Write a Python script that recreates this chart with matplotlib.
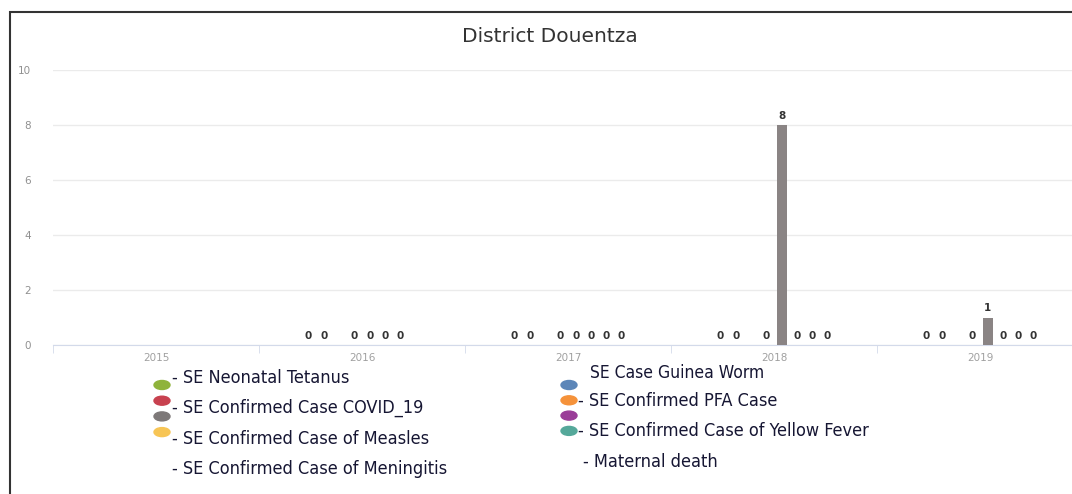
import numpy as np
from matplotlib import pyplot as plt
from matplotlib.patches import Ellipse, Rectangle

nan = np.nan

years = ['2015', '2016', '2017', '2018', '2019']

# one list per series, nan where the chart shows no bar and no label
neonatal_tetanus = [nan, 0, 0, 0, 0]
covid_19 = [nan, 0, 0, 0, 0]
guinea_worm = [nan, nan, nan, nan, nan]
measles = [nan, 0, 0, 0, 0]
meningitis = [nan, 0, 0, 8, 1]
pfa = [nan, 0, 0, 0, 0]
yellow_fever = [nan, 0, 0, 0, 0]
maternal_death = [nan, nan, 0, 0, 0]

series = [neonatal_tetanus, covid_19, guinea_worm, measles,
          meningitis, pfa, yellow_fever, maternal_death]
colors = ['#8fb33b', '#c8414f', '#5c86b8', '#f7c555',
          '#8a8484', '#f5923a', '#9a3d98', '#55a89a']

legend_col1 = ['- SE Neonatal Tetanus', '- SE Confirmed Case COVID_19',
               '- SE Confirmed Case of Measles', '- SE Confirmed Case of Meningitis']
legend_col2 = ['SE Case Guinea Worm', '- SE Confirmed PFA Case',
               '- SE Confirmed Case of Yellow Fever', '- Maternal death']
marker_col1 = ['#8fb33b', '#c8414f', '#7d7878', '#f7c555']
marker_col2 = ['#5c86b8', '#f5923a', '#9a3d98', '#55a89a']

W, H = 1072, 494


def fx(px):
    return px / W


def fy(py):
    return 1 - py / H


fig = plt.figure(figsize=(W / 100, H / 100), dpi=100)
ax = fig.add_axes([fx(53), fy(345), 1030 / W, 275 / H])

x = np.arange(len(years))
step = 0.0743
for i, vals in enumerate(series):
    pos = x + (i - 3.5) * step
    vals = np.array(vals, dtype=float)
    ax.bar(pos, np.nan_to_num(vals), width=0.05, color=colors[i], zorder=3)
    for p, v in zip(pos, vals):
        if not np.isnan(v):
            ax.annotate('%g' % v, (p, v), xytext=(0, 3), textcoords='offset points',
                        ha='center', va='bottom', fontsize=7.5, fontweight='bold',
                        color='#333333')

ax.set_xlim(-0.5, 4.5)
ax.set_ylim(0, 10)
ax.set_yticks([0, 2, 4, 6, 8, 10])
ax.yaxis.grid(True, color='#ebebeb', lw=1, zorder=0)
ax.set_axisbelow(True)
for s in ['top', 'right', 'left']:
    ax.spines[s].set_visible(False)
ax.spines['bottom'].set_color('#d3daea')
ax.set_xticks(x)
ax.set_xticklabels(years)
ax.set_xticks(np.arange(-0.5, 5, 1), minor=True)
ax.tick_params(axis='x', which='major', length=0, pad=6, labelsize=7.5, labelcolor='#a0a0a0')
ax.tick_params(axis='x', which='minor', length=6, color='#d3daea')
ax.tick_params(axis='y', length=0, pad=16, labelsize=7.5, labelcolor='#909090')

fig.text(fx(550), fy(37), 'District Douentza', ha='center', va='center',
         fontsize=14.5, color='#333333')

leg_font = dict(fontsize=13, family='DejaVu Sans', fontstretch='condensed',
                color='#161633', ha='left', va='center')
for j, lab in enumerate(legend_col1):
    fig.text(fx(172), fy(378 + j * 30.3), lab, **leg_font)
for j, lab in enumerate(legend_col2):
    xx = 590 if j == 0 else (583 if j == 3 else 578)
    yy = 373 if j == 0 else 370 + j * 30.5
    size = 12.5 if j == 0 else 13
    fig.text(fx(xx), fy(yy), lab, **dict(leg_font, fontsize=size))

for j, c in enumerate(marker_col1):
    fig.add_artist(Ellipse((fx(162), fy(385 + j * 15.7)), 16 / W, 9 / H,
                           transform=fig.transFigure, color=c))
for j, c in enumerate(marker_col2):
    fig.add_artist(Ellipse((fx(569), fy(385 + j * 15.3)), 16 / W, 9 / H,
                           transform=fig.transFigure, color=c))

fig.add_artist(Rectangle((fx(10), -0.1), 1.2, fy(12) + 0.1, fill=False,
                         edgecolor='#333333', lw=1.5, transform=fig.transFigure))

fig.savefig('out.png', dpi=100)
